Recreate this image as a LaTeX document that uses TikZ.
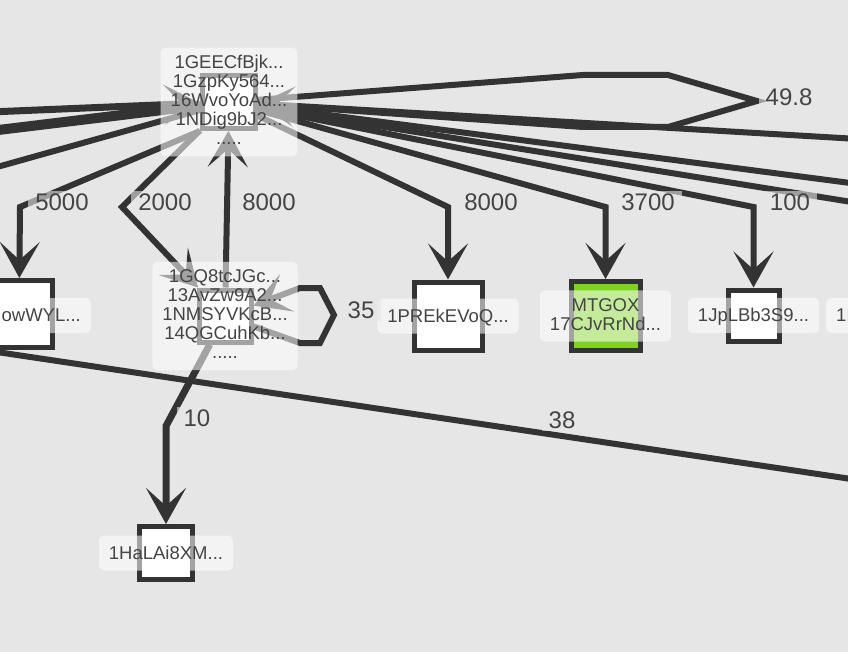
\documentclass[tikz,border=0pt]{standalone}
\usepackage{fontspec}
\setmainfont{Liberation Sans}
\usetikzlibrary{arrows.meta}
\definecolor{bgc}{HTML}{E6E6E6}
\definecolor{linec}{HTML}{333333}
\definecolor{textc}{HTML}{444444}
\definecolor{mtgoxc}{HTML}{7ED321}
\begin{document}
\begin{tikzpicture}[x=1pt,y=-1pt]
	\tikzset{addr/.style = {shape=rectangle, draw=linec, fill=white, line width=5pt, inner sep=0pt}}
	\tikzset{tag/.style = {shape=rectangle, rounded corners=5pt, fill=white, fill opacity=.55, text opacity=1, text=textc, align=center, inner xsep=10pt, inner ysep=8pt, font=\fontsize{18.5}{19}\selectfont, execute at begin node=\rule{0pt}{15.5pt}, execute at end node=\rule[-3.5pt]{0pt}{3.5pt}}}
	\tikzset{edge/.style = {draw=linec, line width=6pt, -{Stealth[length=36pt, width=40pt, inset=18pt]}}}
	\tikzset{wire/.style = {draw=linec, line width=6pt}}
	\tikzset{weight/.style = {fill=bgc, fill opacity=.6, text opacity=1, text=textc, inner xsep=7pt, inner ysep=3pt, font=\fontsize{24}{24}\selectfont}}
	% Background
	\fill[bgc] (0,0) rectangle (848,652);
	\clip (0,0) rectangle (848,652);
	% Draw addresses
	\node[addr, minimum size=53pt] (hub) at (229,102) {};
	\node[addr, minimum size=52pt] (grp) at (225,316) {};
	\node[addr, minimum size=67pt] (wyl) at (19,314) {};
	\node[addr, minimum size=68pt] (prek) at (448,316) {};
	\node[addr, minimum size=69pt, fill=mtgoxc] (mtgox) at (605.5,316) {};
	\node[addr, minimum size=51pt] (jplb) at (753.5,315.5) {};
	\node[addr, minimum size=53pt] (hala) at (166,553) {};
	\coordinate (w1) at (-10,112);
	\coordinate (w2) at (-10,131);
	\coordinate (w3) at (-10,169);
	\coordinate (e1) at (858,139);
	\coordinate (e2) at (858,184);
	\coordinate (e3) at (858,203);
	\coordinate (s1) at (-10,351);
	\coordinate (s2) at (858,480);
	% Draw transactions
	\draw[edge, line width=7pt] (w1) -- (hub);
	\draw[wire, line width=10pt] (w2) -- (hub);
	\draw[wire] (w3) -- (hub);
	\draw[wire] (hub) -- (e1);
	\draw[wire] (hub) -- (e2);
	\draw[wire] (hub) -- (e3);
	\draw[wire] (s1) -- (s2);
	\draw[edge] (hub) -- (583,75) -- (668,75) -- (757,101) -- (668,127) -- (583,127) -- (hub);
	\draw[edge] (hub.south west) -- (20,207) -- (wyl);
	\draw[edge] (hub) -- (122,207) -- (grp);
	\draw[edge] (grp) -- (hub);
	\draw[edge] (hub) -- (448,207) -- (prek);
	\draw[edge] (hub) -- (605.5,207) -- (mtgox);
	\draw[edge] (hub) -- (753.5,207) -- (jplb);
	\draw[edge, {Stealth[length=36pt, width=40pt, inset=18pt]}-] (grp.20) -- (300,288) -- (320,288) -- (334,315) -- (320,343) -- (300,343) -- (grp.-20);
	\draw[edge, line width=7pt] (grp) -- (166,426) -- (hala);
	% Address tags
	\node[tag] (hub-t) at (hub) {1GEECfBjk...\\1GzpKy564...\\16WvoYoAd...\\1NDig9bJ2...\\.....};
	\node[tag] (grp-t) at (grp) {1GQ8tcJGc...\\13AvZw9A2...\\1NMSYVKcB...\\14QGCuhKb...\\.....};
	\node[tag, anchor=east] (wyl-t) at (91,315.5) {owWYL...};
	\node[tag] (prek-t) at (prek) {1PREkEVoQ...};
	\node[tag] (mtgox-t) at (mtgox) {MTGOX\\17CJvRrNd...};
	\node[tag] (jplb-t) at (jplb) {1JpLBb3S9...};
	\node[tag] (hala-t) at (hala) {1HaLAi8XM...};
	\node[tag, anchor=west] (next-t) at (826,315.5) {1I...};
	% Amounts
	\node[weight] (w-5000) at (62,202) {5000};
	\node[weight] (w-2000) at (165,202) {2000};
	\node[weight] (w-8000a) at (269,202) {8000};
	\node[weight] (w-8000b) at (491,202) {8000};
	\node[weight] (w-3700) at (648,202) {3700};
	\node[weight] (w-100) at (790,202) {100};
	\node[weight] (w-498) at (789,97) {49.8};
	\node[weight] (w-35) at (361,310) {35};
	\node[weight] (w-10) at (197,418) {10};
	\node[weight] (w-38) at (562,420) {38};
\end{tikzpicture}
\end{document}
